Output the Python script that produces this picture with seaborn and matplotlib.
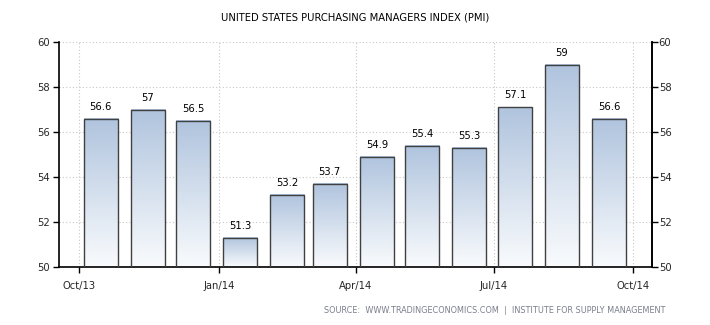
import numpy as np
import pandas as pd
import matplotlib
matplotlib.use("Agg")
import matplotlib.pyplot as plt
import matplotlib.dates as mdates
from matplotlib.colors import LinearSegmentedColormap
import seaborn as sns

# ---- data ----
months = ["2013-10-15", "2013-11-15", "2013-12-15", "2014-01-15", "2014-02-15", "2014-03-15",
          "2014-04-15", "2014-05-15", "2014-06-15", "2014-07-15", "2014-08-15", "2014-09-15"]
pmi = [56.6, 57.0, 56.5, 51.3, 53.2, 53.7, 54.9, 55.4, 55.3, 57.1, 59.0, 56.6]
tick_dates = ["2013-10-01", "2014-01-01", "2014-04-01", "2014-07-01", "2014-10-01"]
tick_labels = ["Oct/13", "Jan/14", "Apr/14", "Jul/14", "Oct/14"]
y_ticks = [50, 52, 54, 56, 58, 60]
title = "UNITED STATES PURCHASING MANAGERS INDEX (PMI)"
source = "SOURCE:  WWW.TRADINGECONOMICS.COM  |  INSTITUTE FOR SUPPLY MANAGEMENT"

df = pd.DataFrame({"x": mdates.date2num(pd.to_datetime(months)), "pmi": pmi})
tick_pos = mdates.date2num(pd.to_datetime(tick_dates))
y_min, y_max = y_ticks[0], y_ticks[-1]

sns.set_style("white")
plt.rcParams["font.family"] = ["DejaVu Sans"]

fig = plt.figure(figsize=(7.1, 3.25), dpi=100)
ax = fig.add_axes([0.0824, 0.1775, 0.918 - 0.0824, 0.8708 - 0.1775])

sns.barplot(data=df, x="x", y="pmi", native_scale=True, width=0.8,
            color="#b0c4de", edgecolor="#404040", linewidth=1.0, ax=ax, zorder=3)

xmin = tick_pos[0] - 13.7
xmax = tick_pos[-1] + 12.1

# gradient fill per bar (visible part only, from axis bottom to bar top)
cmap = LinearSegmentedColormap.from_list("g", ["#f9fbfd", "#b0c4de"])
grad = np.linspace(0, 1, 256).reshape(-1, 1)
for p in list(ax.patches):
    x0 = p.get_x()
    w = p.get_width()
    top = p.get_y() + p.get_height()
    p.set_facecolor("none")
    ax.imshow(grad, cmap=cmap, origin="lower", aspect="auto",
              extent=[x0, x0 + w, y_min, top], zorder=2.5, interpolation="bilinear")

ax.bar_label(ax.containers[0], labels=[f"{v:g}" for v in pmi], padding=5,
             fontsize=7.2, color="#000000")

ax.set_xlim(xmin, xmax)
ax.set_ylim(y_min, y_max)
ax.set_xticks(tick_pos)
ax.set_xticklabels(tick_labels, fontsize=7.2)
ax.set_yticks(y_ticks)
ax.set_yticklabels([str(v) for v in y_ticks], fontsize=7.2)
ax.set_xlabel("")
ax.set_ylabel("")

ax.grid(True, color="#c8c8c8", linestyle=(0, (1, 2)), linewidth=0.8, zorder=0)
ax.set_axisbelow(True)
ax.spines["top"].set_visible(False)
for s in ["left", "bottom", "right"]:
    ax.spines[s].set_visible(True)
    ax.spines[s].set_color("black")
    ax.spines[s].set_linewidth(1.2)
ax.tick_params(axis="both", direction="out", length=4, width=1, color="black", pad=2)
ax.tick_params(axis="x", pad=6, bottom=True)
ax.tick_params(axis="y", left=True)

ax2 = ax.twinx()
ax2.set_ylim(y_min, y_max)
ax2.set_yticks(y_ticks)
ax2.set_yticklabels([str(v) for v in y_ticks], fontsize=7.2)
for s in ["top", "left", "bottom"]:
    ax2.spines[s].set_visible(False)
ax2.spines["right"].set_color("black")
ax2.spines["right"].set_linewidth(1.2)
ax2.tick_params(axis="y", direction="out", length=4, width=1, color="black", pad=1, right=True)

fig.text(0.5, 0.945, title, ha="center", va="center", fontsize=7.2, color="#000000")
fig.text(0.938, 0.045, source, ha="right", va="center", fontsize=5.9, color="#7a7f8c")

fig.savefig("out.png", dpi=100)
